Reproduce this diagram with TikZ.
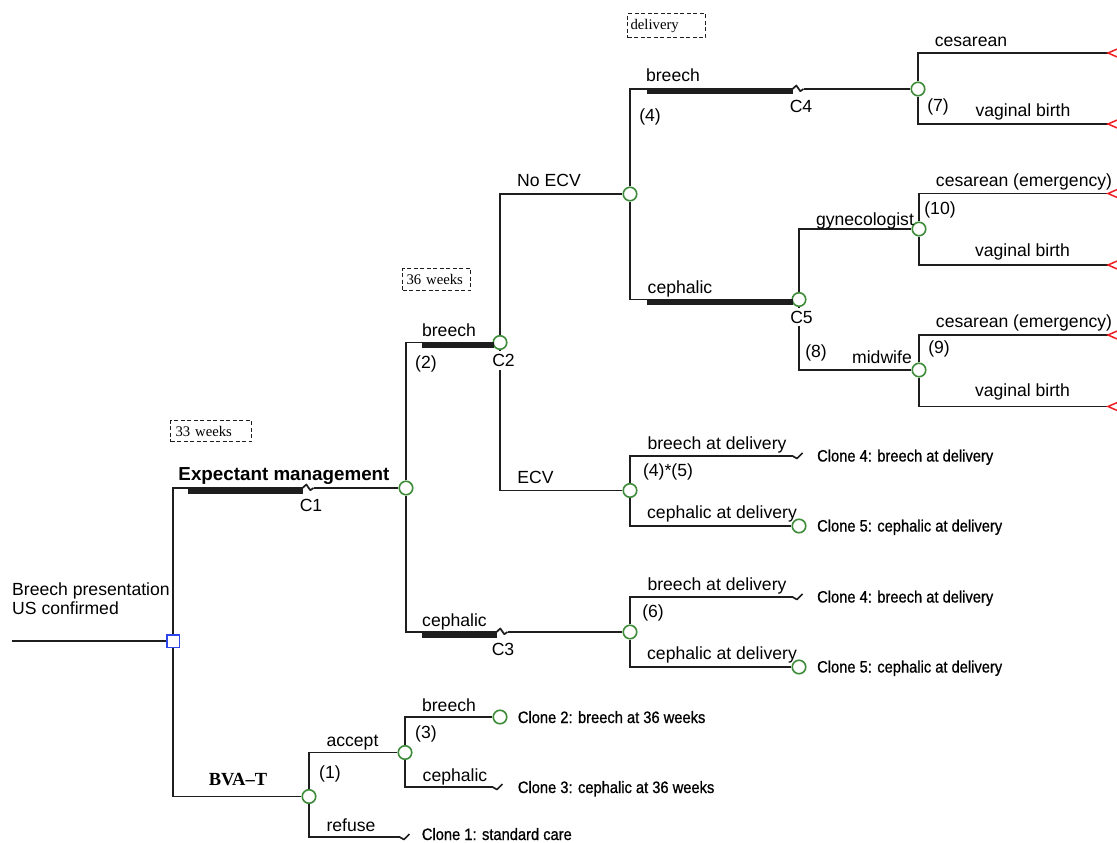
\documentclass[tikz,border=0pt]{standalone}
\usepackage{fontspec}
\setmainfont{Liberation Sans}
\newfontfamily\narrowfont[FakeStretch=0.89,FakeBold=0.8]{Liberation Sans}
\newfontfamily\serifbox{Liberation Serif}
\definecolor{cgreen}{RGB}{62,140,58}
\definecolor{cblue}{RGB}{45,70,235}
\definecolor{cred}{RGB}{240,30,35}
\definecolor{cline}{RGB}{30,30,30}
\begin{document}
\begin{tikzpicture}[x=1pt,y=-1pt,
  ln/.style={line width=1.7pt, color=cline, draw=cline},
  chance/.style={circle, draw=cgreen, fill=white, line width=1.6pt, minimum size=13.5pt, inner sep=0pt},
  decn/.style={rectangle, draw=cblue, fill=white, line width=1.5pt, minimum size=12.5pt, inner sep=0pt},
  lab/.style={font=\fontsize{17.6}{19}\selectfont, inner sep=0pt, anchor=base, text=black},
  cut/.style={lab, fill=white, inner xsep=1pt, inner ysep=3pt},
  clab/.style={font=\narrowfont\fontsize{16.5}{18}\selectfont, inner sep=0pt, anchor=base west},
  tbox/.style={draw=cline, dash pattern=on 4pt off 2.5pt, line width=1.2pt,
    font=\serifbox\fontsize{14.7}{16}\selectfont, anchor=north west, align=left, inner ysep=0pt},
  bar/.style={fill=cline},
  brk/.pic={\fill[white] (-0.5,-1.5) rectangle (11,1.5);
    \draw[ln, line join=round] (-0.5,0) -- (3.3,-3.5) -- (7.3,2.2) -- (10.5,0);},
  etl/.pic={\draw[ln, line join=round] (-0.5,0) -- (4,2.5) -- (9.5,-3);},
  term/.pic={\draw[cred, line width=1.5pt, line join=miter] (0,0) -- (15,-6.5) -- (15,6.5) -- cycle;}
]
\useasboundingbox (0,0) rectangle (1117,843);

% chance nodes
\node[chance] (n1) at (406,488) {};
\node[chance] (n2) at (500,342.5) {};
\node[chance] (n3) at (630,194) {};
\node[chance] (n4) at (630,490.5) {};
\node[chance] (n5) at (918,89) {};
\node[chance] (n6) at (799,299.5) {};
\node[chance] (n7) at (919,229) {};
\node[chance] (n8) at (919,370) {};
\node[chance] (n9) at (799,526) {};
\node[chance] (n10) at (630,632) {};
\node[chance] (n11) at (799,667) {};
\node[chance] (n12) at (309,796.5) {};
\node[chance] (n13) at (405,752.5) {};
\node[chance] (n14) at (500,717) {};
% decision node
\node[decn] (d0) at (173,641) {};

\coordinate (s0) at (12,641);
\coordinate (t1) at (1108,53);
\coordinate (t2) at (1108,124);
\coordinate (t3) at (1108,193.5);
\coordinate (t4) at (1108,265);
\coordinate (t5) at (1108,335);
\coordinate (t6) at (1108,406.5);
\coordinate (e1) at (793,456);
\coordinate (e2) at (793,597);
\coordinate (e3) at (400,837);
\coordinate (e4) at (493,787);

% connectors
\draw[ln] (d0) |- (n1);
\draw[ln] (d0) |- (n12);
\draw[ln] (s0) -- (d0);
\draw[ln] (n1) |- (n2);
\draw[ln] (n1) |- (n10);
\draw[ln] (n2) |- (n3);
\draw[ln] (n2) |- (n4);
\draw[ln] (n3) |- (n5);
\draw[ln] (n3) |- (n6);
\draw[ln] (n5) |- (t1);
\draw[ln] (n5) |- (t2);
\draw[ln] (n6) |- (n7);
\draw[ln] (n6) |- (n8);
\draw[ln] (n7) |- (t3);
\draw[ln] (n7) |- (t4);
\draw[ln] (n8) |- (t5);
\draw[ln] (n8) |- (t6);
\draw[ln] (n4) |- (e1);
\draw[ln] (n4) |- (n9);
\draw[ln] (n10) |- (e2);
\draw[ln] (n10) |- (n11);
\draw[ln] (n12) |- (n13);
\draw[ln] (n12) |- (e3);
\draw[ln] (n13) |- (n14);
\draw[ln] (n13) |- (e4);
% thick bars
\fill[bar] (188,487.3) rectangle (303,493.5);
\fill[bar] (422,341.8) rectangle (493.5,348);
\fill[bar] (422,631.3) rectangle (497,637.5);
\fill[bar] (647,88.3) rectangle (793,94.5);
\fill[bar] (647,298.8) rectangle (792.5,305);
% breaks
\pic at (303,488) {brk};
\pic at (497,632) {brk};
\pic at (793,89) {brk};
\pic at (e1) {etl};
\pic at (e2) {etl};
\pic at (e3) {etl};
\pic at (e4) {etl};
\pic at (t1) {term};
\pic at (t2) {term};
\pic at (t3) {term};
\pic at (t4) {term};
\pic at (t5) {term};
\pic at (t6) {term};

% time boxes
\node[tbox, text width=71pt, inner xsep=5pt, minimum height=21pt] (w33) at (170,420) {33 weeks};
\node[tbox, text width=60pt, inner xsep=4pt, minimum height=22pt] (w36) at (402,268) {36 weeks};
\node[tbox, text width=72pt, inner xsep=3pt, minimum height=24pt] (wdel) at (627,13) {delivery};

% labels
\node[lab, anchor=base west] (lroot) at (12,595) {\begin{tabular}[t]{@{}l@{}}Breech presentation\\US confirmed\end{tabular}};
\node[lab, font=\bfseries\fontsize{18.8}{20}\selectfont] (lexp) at (284,480) {Expectant management};
\node[lab] (lc1) at (311,511.5) {C1};
\node[lab, font=\serifbox\bfseries\fontsize{18.5}{20}\selectfont] (lbva) at (238,785) {BVA–T};

\node[lab] (lbr2) at (449,336.5) {breech};
\node[lab] (lp2) at (426,368) {(2)};
\node[cut] (lc2) at (503.5,366.5) {C2};
\node[lab] (lnoecv) at (549,186.5) {No ECV};
\node[lab] (lecv) at (535.5,483) {ECV};

\node[lab] (lbr4) at (673,81.5) {breech};
\node[lab] (lp4) at (650,121.5) {(4)};
\node[lab] (lc4) at (801,113) {C4};
\node[lab] (lces1) at (971,46.5) {cesarean};
\node[lab] (lp7) at (938,111.5) {(7)};
\node[lab] (lvag1) at (1023,116.5) {vaginal birth};

\node[lab] (lceph5) at (680,293) {cephalic};
\node[cut] (lc5) at (801.5,323) {C5};
\node[lab] (lgyn) at (865,225) {gynecologist};
\node[lab] (lp10) at (940,214) {(10)};
\node[lab] (lces2) at (1024,186.5) {cesarean (emergency)};
\node[lab] (lvag2) at (1022.5,256.5) {vaginal birth};
\node[lab] (lp8) at (816,357) {(8)};
\node[lab] (lmid) at (882,363) {midwife};
\node[lab] (lp9) at (939,353) {(9)};
\node[lab] (lces3) at (1024,327) {cesarean (emergency)};
\node[lab] (lvag3) at (1022.5,396.5) {vaginal birth};

\node[lab] (lbd1) at (717,449) {breech at delivery};
\node[lab] (lp45) at (668,476) {(4)*(5)};
\node[lab] (lcd1) at (722,518) {cephalic at delivery};
\node[clab] (lcl4a) at (817,461.5) {Clone 4: breech at delivery};
\node[clab] (lcl5a) at (817,531.5) {Clone 5: cephalic at delivery};

\node[lab] (lceph3) at (454.5,626.5) {cephalic};
\node[lab] (lc3) at (503,655) {C3};
\node[lab] (lbd2) at (717,590) {breech at delivery};
\node[lab] (lp6) at (653,617) {(6)};
\node[lab] (lcd2) at (722,659) {cephalic at delivery};
\node[clab] (lcl4b) at (817,602.5) {Clone 4: breech at delivery};
\node[clab] (lcl5b) at (817,672.5) {Clone 5: cephalic at delivery};

\node[lab] (lacc) at (352.5,746) {accept};
\node[lab] (lp1) at (330,778) {(1)};
\node[lab] (lref) at (351,831.5) {refuse};
\node[lab] (lbr3) at (449,711.5) {breech};
\node[lab] (lp3) at (426,738) {(3)};
\node[lab] (lceph1) at (455,781.5) {cephalic};
\node[clab] (lcl2) at (517.7,723) {Clone 2: breech at 36 weeks};
\node[clab] (lcl3) at (517.7,793) {Clone 3: cephalic at 36 weeks};
\node[clab] (lcl1) at (421.7,840) {Clone 1: standard care};
\end{tikzpicture}
\end{document}
